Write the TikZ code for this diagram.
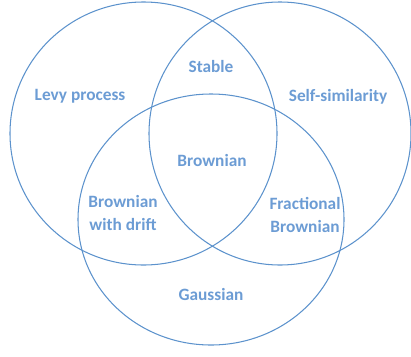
\documentclass[tikz,border=0pt]{standalone}
\usepackage{fontspec}
\setmainfont{Carlito}
\usetikzlibrary{shapes.geometric}
\definecolor{ringblue}{RGB}{92,146,204}
\definecolor{textblue}{RGB}{108,156,212}
\tikzset{
  ring/.style={ellipse, draw=ringblue, line width=1.05pt, inner sep=0pt},
  lbl/.style={text=textblue, font=\fontsize{17.3}{23}\selectfont\bfseries, align=center, inner sep=0pt}
}
\begin{document}
\begin{tikzpicture}[x=1pt, y=-1pt]
\useasboundingbox (0,0) rectangle (411,356);
\node[ring, minimum width=267pt, minimum height=263pt] (levy) at (143.5,133.5) {};
\node[ring, minimum width=262pt, minimum height=263pt] (self) at (280,133.5) {};
\node[ring, minimum width=266pt, minimum height=251pt] (gauss) at (211,219.5) {};
\node[lbl] (tlevy) at (80,96) {Levy process};
\node[lbl] (tstable) at (211,66) {Stable};
\node[lbl] (tself) at (338,97) {Self-similarity};
\node[lbl] (tbrown) at (212,160) {Brownian};
\node[lbl] (tdrift) at (123,213) {Brownian\\with drift};
\node[lbl] (tfrac) at (305,215) {Fractional\\Brownian};
\node[lbl] (tgauss) at (211,294) {Gaussian};
\end{tikzpicture}
\end{document}
